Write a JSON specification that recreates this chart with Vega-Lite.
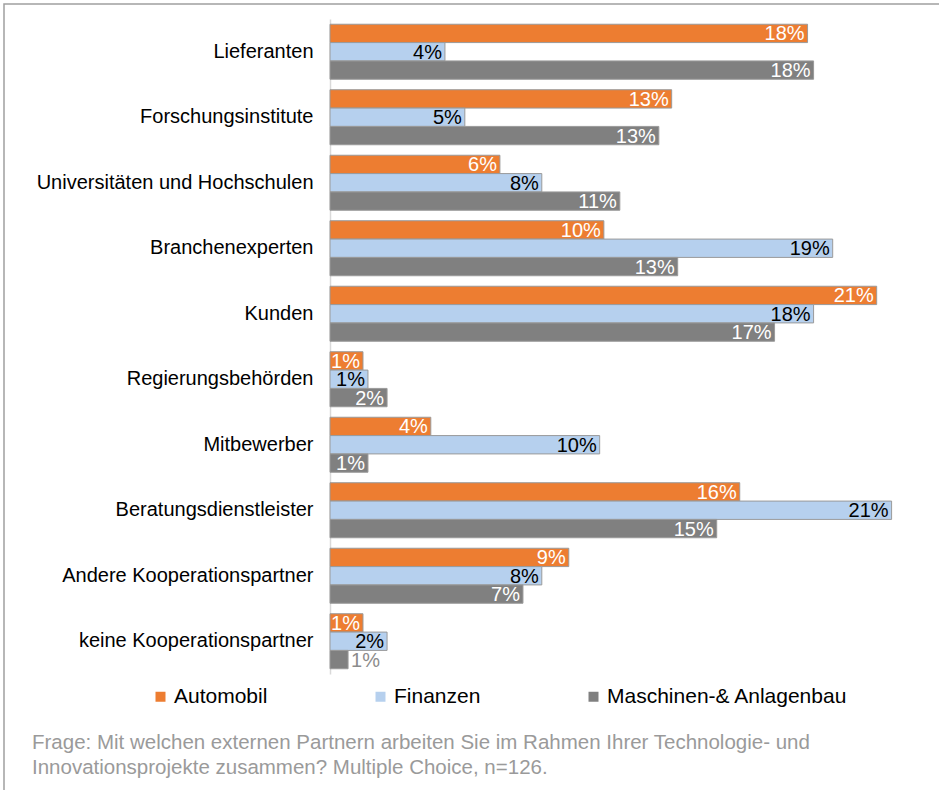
{
  "$schema": "https://vega.github.io/schema/vega-lite/v6.json",
  "width": 936,
  "height": 787,
  "autosize": {"type": "none"},
  "padding": {"left": 4, "top": 4, "right": 0, "bottom": 0},
  "background": "white",
  "config": {
    "font": "Liberation Sans",
    "view": {"stroke": "#a0a0a0", "strokeWidth": 1.5}
  },
  "title": {
    "text": ["Frage: Mit welchen externen Partnern arbeiten Sie im Rahmen Ihrer Technologie- und", "Innovationsprojekte zusammen? Multiple Choice, n=126."],
    "orient": "bottom",
    "anchor": "start",
    "frame": "group",
    "dx": 28,
    "offset": -58,
    "fontSize": 20.5,
    "fontWeight": "normal",
    "color": "#9a9a9a",
    "lineHeight": 25,
    "font": "Liberation Sans"
  },
  "data": {
    "values": [
      {"kategorie": "Lieferanten", "branche": "Automobil", "wert": 0.1824},
      {"kategorie": "Lieferanten", "branche": "Finanzen", "wert": 0.0439},
      {"kategorie": "Lieferanten", "branche": "Maschinen-& Anlagenbau", "wert": 0.1847},
      {"kategorie": "Forschungsinstitute", "branche": "Automobil", "wert": 0.1305},
      {"kategorie": "Forschungsinstitute", "branche": "Finanzen", "wert": 0.0515},
      {"kategorie": "Forschungsinstitute", "branche": "Maschinen-& Anlagenbau", "wert": 0.1256},
      {"kategorie": "Universitäten und Hochschulen", "branche": "Automobil", "wert": 0.0649},
      {"kategorie": "Universitäten und Hochschulen", "branche": "Finanzen", "wert": 0.0809},
      {"kategorie": "Universitäten und Hochschulen", "branche": "Maschinen-& Anlagenbau", "wert": 0.1107},
      {"kategorie": "Branchenexperten", "branche": "Automobil", "wert": 0.1046},
      {"kategorie": "Branchenexperten", "branche": "Finanzen", "wert": 0.192},
      {"kategorie": "Branchenexperten", "branche": "Maschinen-& Anlagenbau", "wert": 0.1328},
      {"kategorie": "Kunden", "branche": "Automobil", "wert": 0.2088},
      {"kategorie": "Kunden", "branche": "Finanzen", "wert": 0.1847},
      {"kategorie": "Kunden", "branche": "Maschinen-& Anlagenbau", "wert": 0.1698},
      {"kategorie": "Regierungsbehörden", "branche": "Automobil", "wert": 0.0126},
      {"kategorie": "Regierungsbehörden", "branche": "Finanzen", "wert": 0.0145},
      {"kategorie": "Regierungsbehörden", "branche": "Maschinen-& Anlagenbau", "wert": 0.0218},
      {"kategorie": "Mitbewerber", "branche": "Automobil", "wert": 0.0385},
      {"kategorie": "Mitbewerber", "branche": "Finanzen", "wert": 0.103},
      {"kategorie": "Mitbewerber", "branche": "Maschinen-& Anlagenbau", "wert": 0.0145},
      {"kategorie": "Beratungsdienstleister", "branche": "Automobil", "wert": 0.1565},
      {"kategorie": "Beratungsdienstleister", "branche": "Finanzen", "wert": 0.2145},
      {"kategorie": "Beratungsdienstleister", "branche": "Maschinen-& Anlagenbau", "wert": 0.1477},
      {"kategorie": "Andere Kooperationspartner", "branche": "Automobil", "wert": 0.0912},
      {"kategorie": "Andere Kooperationspartner", "branche": "Finanzen", "wert": 0.0809},
      {"kategorie": "Andere Kooperationspartner", "branche": "Maschinen-& Anlagenbau", "wert": 0.0737},
      {"kategorie": "keine Kooperationspartner", "branche": "Automobil", "wert": 0.0126},
      {"kategorie": "keine Kooperationspartner", "branche": "Finanzen", "wert": 0.0218},
      {"kategorie": "keine Kooperationspartner", "branche": "Maschinen-& Anlagenbau", "wert": 0.0069}
    ]
  },
  "encoding": {
    "y": {
      "field": "kategorie",
      "type": "nominal",
      "sort": null,
      "title": null,
      "scale": {"range": [15, 670], "paddingInner": 0.16, "paddingOuter": 0.08},
      "axis": {
        "offset": -326,
        "domainColor": "#d9d9d9",
        "domainWidth": 1.5,
        "ticks": false,
        "grid": false,
        "labelFontSize": 20,
        "labelColor": "#000000",
        "labelPadding": 17,
        "labelFont": "Liberation Sans",
        "labelLimit": 400
      }
    },
    "yOffset": {
      "field": "branche",
      "type": "nominal",
      "sort": ["Automobil", "Finanzen", "Maschinen-& Anlagenbau"],
      "scale": {"paddingInner": 0, "paddingOuter": 0}
    },
    "x": {
      "field": "wert",
      "type": "quantitative",
      "scale": {"domain": [0, 0.22], "range": [326, 902], "nice": false, "zero": true},
      "axis": null
    }
  },
  "layer": [
    {
      "mark": {"type": "bar", "stroke": "#9a9a9a", "strokeWidth": 1},
      "encoding": {
        "color": {
          "field": "branche",
          "type": "nominal",
          "sort": ["Automobil", "Finanzen", "Maschinen-& Anlagenbau"],
          "scale": {
            "domain": ["Automobil", "Finanzen", "Maschinen-& Anlagenbau"],
            "range": ["#ed7d31", "#b6d0ee", "#808080"]
          },
          "legend": {
            "title": null,
            "orient": "none",
            "direction": "horizontal",
            "legendX": 146,
            "legendY": 682,
            "columns": 3,
            "columnPadding": 102,
            "symbolType": "square",
            "symbolSize": 100,
            "symbolStrokeWidth": 0,
            "symbolOffset": 0,
            "labelOffset": 3,
            "labelFontSize": 21,
            "labelColor": "#000000",
            "labelFont": "Liberation Sans",
            "labelLimit": 300
          }
        }
      }
    },
    {
      "transform": [{"filter": "datum.wert >= 0.01"}],
      "mark": {"type": "text", "align": "right", "dx": -3, "fontSize": 20, "baseline": "middle", "dy": 1},
      "encoding": {
        "text": {"field": "wert", "type": "quantitative", "format": ".0%"},
        "color": {
          "condition": {"test": "datum.branche === 'Finanzen'", "value": "#000000"},
          "value": "#ffffff"
        }
      }
    },
    {
      "transform": [{"filter": "datum.wert < 0.01"}],
      "mark": {"type": "text", "align": "left", "dx": 3, "fontSize": 20, "baseline": "middle", "dy": 1, "color": "#8c8c8c"},
      "encoding": {
        "text": {"field": "wert", "type": "quantitative", "format": ".0%"}
      }
    }
  ]
}
